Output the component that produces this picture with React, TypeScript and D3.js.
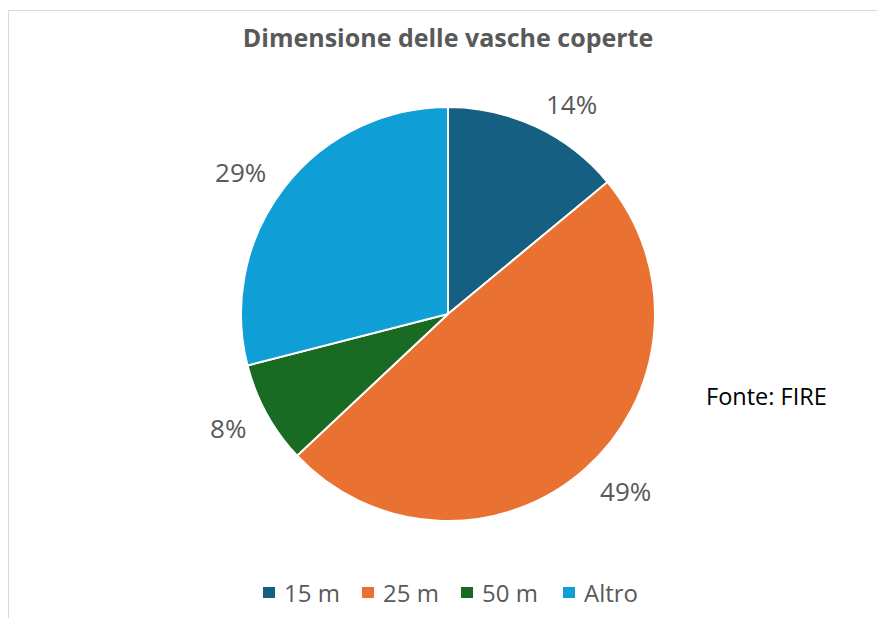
import React from "react";
import * as d3 from "d3";

const categories = ["15 m", "25 m", "50 m", "Altro"];
const values = [14, 49, 8, 29];
const colors = ["#156082", "#E97132", "#196B24", "#0F9ED5"];
const title = "Dimensione delle vasche coperte";
const source = "Fonte: FIRE";

export default function App() {
  const W = 877, H = 618;
  const cx = 448, cy = 314, r = 207;
  const pie = d3.pie<number>().sort(null).value((d) => d)(values);
  const arc = d3.arc<d3.PieArcDatum<number>>().innerRadius(0).outerRadius(r);
  const labelR = 230;
  const total = d3.sum(values);
  const font = "'Open Sans', 'Noto Sans', sans-serif";
  const legendX = [263, 362, 461, 563];
  return (
    <svg width={W} height={H} style={{ position: "absolute", left: 0, top: 0 }}>
      <rect x={0} y={0} width={W} height={H} fill="#fff" />
      <line x1={8.5} y1={10.5} x2={W} y2={10.5} stroke="#d9d9d9" strokeWidth={1} />
      <line x1={8.5} y1={10.5} x2={8.5} y2={H} stroke="#d9d9d9" strokeWidth={1} />
      <text x={448} y={47} textAnchor="middle" fontFamily={font} fontWeight={700} fontSize={25} fill="#595959">
        {title}
      </text>
      <g transform={`translate(${cx},${cy})`}>
        {pie.map((p, i) => (
          <path key={i} d={arc(p) || ""} fill={colors[i]} stroke="#fff" strokeWidth={2} />
        ))}
        {pie.map((p, i) => {
          const a = (p.startAngle + p.endAngle) / 2;
          const x = Math.sin(a) * labelR;
          const y = -Math.cos(a) * labelR;
          const dy = 9.4 + 2 - 4 * Math.cos(a);
          return (
            <text key={i} x={x} y={y + dy} textAnchor={Math.sin(a) >= 0 ? "start" : "end"} fontFamily={font} fontSize={26} fill="#595959">
              {d3.format(".0%")(p.value / total)}
            </text>
          );
        })}
      </g>
      <text x={706} y={405} fontFamily={font} fontSize={23.5} fill="#000">{source}</text>
      {categories.map((c, i) => (
        <g key={c} transform={`translate(${legendX[i]},587)`}>
          <rect x={0} y={0} width={12} height={11} fill={colors[i]} />
          <text x={21} y={15} fontFamily={font} fontSize={24} fill="#595959">{c}</text>
        </g>
      ))}
    </svg>
  );
}
